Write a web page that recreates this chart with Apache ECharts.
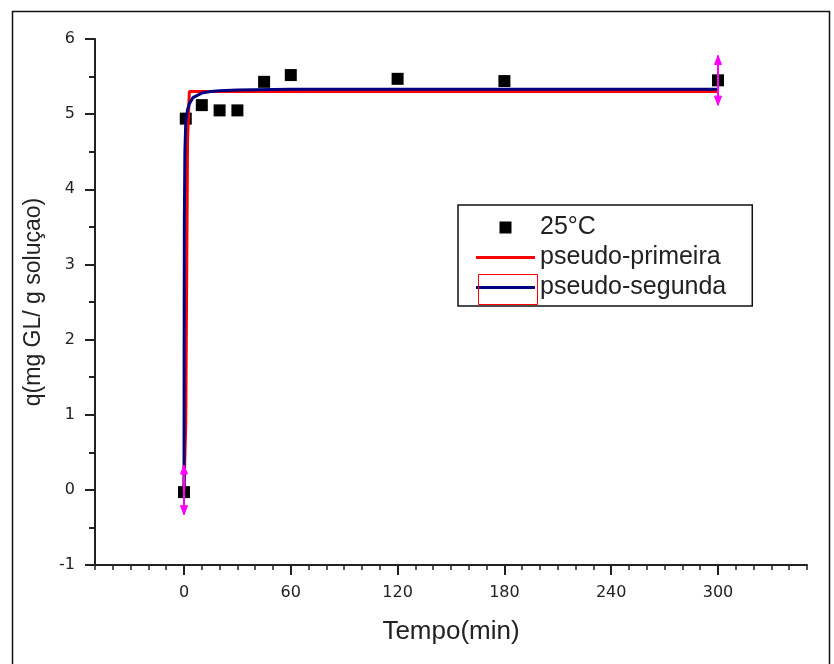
<!DOCTYPE html>
<html>
<head>
<meta charset="utf-8">
<script src="https://cdn.jsdelivr.net/npm/echarts@6/dist/echarts.min.js"></script>
<style>
  html, body { margin: 0; padding: 0; background: #fff; }
  #chart { width: 834px; height: 664px; }
</style>
</head>
<body>
<div id="chart"></div>
<script>
// measured points (Tempo, q)
const expT = [0, 1, 10, 20, 30, 45, 60, 120, 180, 300];
const expQ = [-0.03, 4.94, 5.12, 5.05, 5.05, 5.43, 5.52, 5.47, 5.44, 5.45];

// fitted curves
const redT = [0, 1, 1.5, 2, 3, 10, 60, 300];
const redQ = [0, 0.9, 2.8, 4.65, 5.30, 5.30, 5.30, 5.30];
const blueT = [0, 0.05, 0.1, 0.2, 0.5, 1, 2, 3, 5, 10, 15, 20, 30, 60, 120, 180, 300];
const blueQ = [0, 1.2, 2.4, 3.6, 4.5, 4.9, 5.06, 5.14, 5.22, 5.28, 5.30, 5.31, 5.32, 5.33, 5.33, 5.33, 5.33];

// magenta markers (t, q, half height)
const errT = [0, 300];
const errQ = [0, 5.45];
const errH = [0.33, 0.33];

const xMajor = [0, 60, 120, 180, 240, 300];

const font = 'Liberation Sans, Arial, sans-serif';
const tickFont = 'DejaVu Sans, sans-serif';
const squareIcon = 'path://M0,0L10,0L10,10L0,10Z';
const lineIcon = 'path://M0,0L60,0L60,3L0,3Z';

const chart = echarts.init(document.getElementById('chart'));

chart.setOption({
    animation: false,
    backgroundColor: '#fff',
    grid: { left: 95, right: 27, top: 39, bottom: 99 },
    legend: {
        orient: 'vertical',
        left: 458,
        top: 205,
        padding: [10, 26, 6, 18],
        itemWidth: 59,
        itemHeight: 12,
        itemGap: 5,
        symbolKeepAspect: true,
        borderColor: '#111',
        borderWidth: 1.5,
        borderRadius: 0,
        textStyle: { fontFamily: font, fontSize: 25, color: '#222' },
        data: [
            { name: '25°C', icon: squareIcon },
            { name: 'pseudo-primeira', icon: lineIcon },
            { name: 'pseudo-segunda', icon: lineIcon }
        ]
    },
    xAxis: [
        {
            type: 'value',
            min: -50,
            max: 350,
            interval: 10,
            splitLine: { show: false },
            axisLine: { onZero: false, lineStyle: { color: '#222', width: 2 } },
            axisTick: { customValues: xMajor, length: 10, lineStyle: { color: '#222', width: 2 } },
            axisLabel: {
                customValues: xMajor,
                margin: 20,
                fontFamily: tickFont,
                fontSize: 16,
                color: '#222'
            },
            name: 'Tempo(min)',
            nameLocation: 'middle',
            nameGap: 54,
            nameTextStyle: { fontFamily: font, fontSize: 26, color: '#222' }
        },
        {
            type: 'value',
            min: -50,
            max: 350,
            interval: 10,
            position: 'bottom',
            splitLine: { show: false },
            axisLine: { show: false, onZero: false },
            axisTick: { length: 5, lineStyle: { color: '#222', width: 1.5 } },
            axisLabel: { show: false }
        }
    ],
    yAxis: {
        type: 'value',
        min: -1,
        max: 6,
        interval: 1,
        splitLine: { show: false },
        axisLine: { show: true, onZero: false, lineStyle: { color: '#222', width: 2 } },
        axisTick: { show: true, length: 10, lineStyle: { color: '#222', width: 2 } },
        minorTick: { show: true, splitNumber: 2, length: 6, lineStyle: { color: '#222', width: 2 } },
        axisLabel: { margin: 20, fontFamily: tickFont, fontSize: 16, color: '#222' },
        name: 'q(mg GL/ g soluçao)',
        nameLocation: 'middle',
        nameGap: 50,
        nameTextStyle: { fontFamily: font, fontSize: 23, color: '#222' }
    },
    series: [
        {
            name: '25°C',
            type: 'scatter',
            symbol: 'rect',
            symbolSize: 12,
            itemStyle: { color: '#000', opacity: 1 },
            data: expT.map((t, i) => [t, expQ[i]]),
            z: 2
        },
        {
            name: 'pseudo-primeira',
            type: 'line',
            showSymbol: false,
            symbol: 'none',
            lineStyle: { color: '#ff0000', width: 3 },
            itemStyle: { color: '#ff0000' },
            data: redT.map((t, i) => [t, redQ[i]]),
            z: 3
        },
        {
            name: 'pseudo-segunda',
            type: 'line',
            showSymbol: false,
            symbol: 'none',
            lineStyle: { color: '#000080', width: 3 },
            itemStyle: { color: '#000080' },
            data: blueT.map((t, i) => [t, blueQ[i]]),
            z: 4
        },
        {
            type: 'custom',
            z: 5,
            data: errT.map((t, i) => [t, errQ[i], errH[i]]),
            renderItem: (params, api) => {
                const x = api.value(0), y = api.value(1), h = api.value(2);
                const top = api.coord([x, y + h]);
                const bot = api.coord([x, y - h]);
                const style = { fill: '#ff00ff', stroke: '#ff00ff' };
                return {
                    type: 'group',
                    children: [
                        { type: 'line', shape: { x1: top[0], y1: top[1], x2: bot[0], y2: bot[1] },
                          style: { stroke: '#ff00ff', lineWidth: 2 } },
                        { type: 'polygon', shape: { points: [[top[0], top[1]], [top[0] - 3.5, top[1] + 9], [top[0] + 3.5, top[1] + 9]] },
                          style: style },
                        { type: 'polygon', shape: { points: [[bot[0], bot[1]], [bot[0] - 3.5, bot[1] - 9], [bot[0] + 3.5, bot[1] - 9]] },
                          style: style }
                    ]
                };
            }
        }
    ],
    graphic: [
        {
            type: 'rect',
            left: 10, top: 9,
            shape: { width: 817, height: 680 },
            style: { fill: 'none', stroke: '#111', lineWidth: 1.5 },
            silent: true
        },
        {
            type: 'rect',
            left: 476, top: 272,
            shape: { width: 59, height: 30 },
            style: { fill: 'none', stroke: '#ff0000', lineWidth: 1 },
            z: 100,
            silent: true
        }
    ]
});
</script>
</body>
</html>
